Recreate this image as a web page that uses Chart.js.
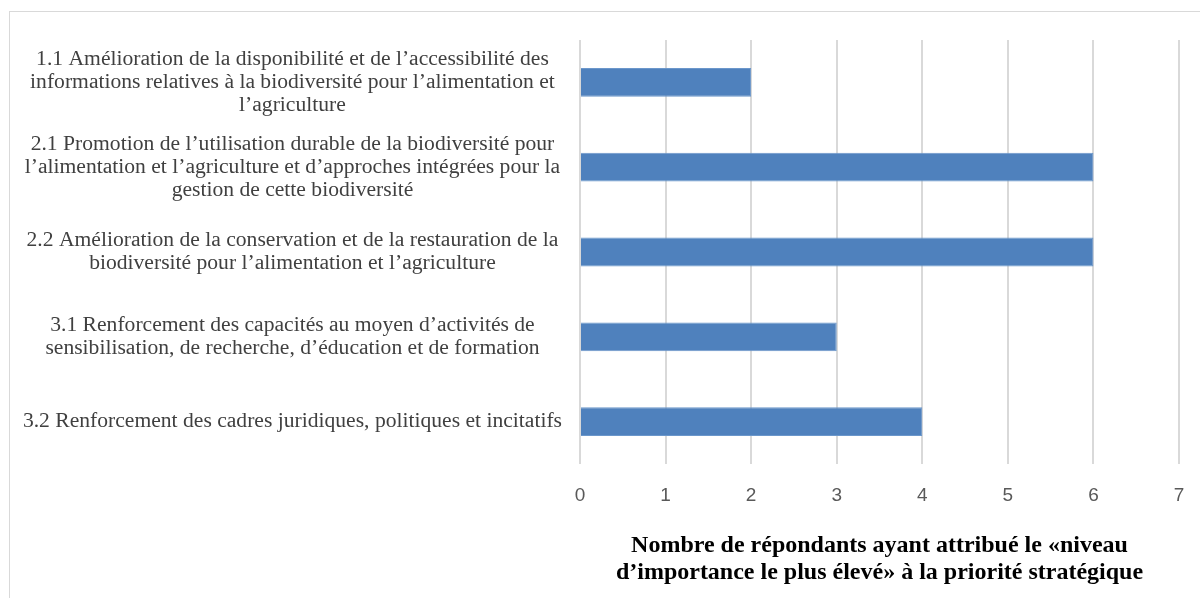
<!DOCTYPE html>
<html>
<head>
<meta charset="utf-8">
<script src="https://cdn.jsdelivr.net/npm/chart.js@4/dist/chart.umd.min.js"></script>
<style>
    html, body { margin: 0; padding: 0; background: #fff; }
    #frame {
        position: absolute; left: 9px; top: 11px;
        width: 1300px; height: 700px;
        border: 1px solid #d9d9d9;
    }
    #wrap { position: absolute; left: 0; top: 0; width: 1200px; height: 598px; }
</style>
</head>
<body>
<div id="frame"></div>
<div id="wrap"><canvas id="priorityChart" width="1200" height="598"></canvas></div>
<script>
// priorités stratégiques (libellés sur plusieurs lignes)
var categories = [
    ["1.1 Amélioration de la disponibilité et de l’accessibilité des",
     "informations relatives à la biodiversité pour l’alimentation et",
     "l’agriculture"],
    ["2.1 Promotion de l’utilisation durable de la biodiversité pour",
     "l’alimentation et l’agriculture et d’approches intégrées pour la",
     "gestion de cette biodiversité"],
    ["2.2 Amélioration de la conservation et de la restauration de la",
     "biodiversité pour l’alimentation et l’agriculture"],
    ["3.1 Renforcement des capacités au moyen d’activités de",
     "sensibilisation, de recherche, d’éducation et de formation"],
    ["3.2 Renforcement des cadres juridiques, politiques et incitatifs"]
];
var respondents = [2, 6, 6, 3, 4];
var xTicks = [0, 1, 2, 3, 4, 5, 6, 7];
var axisTitle = [
    "Nombre de répondants ayant attribué le «niveau",
    "d’importance le plus élevé» à la priorité stratégique"
];

var ctx = document.getElementById("priorityChart").getContext("2d");

new Chart(ctx, {
    type: 'bar',
    data: {
        labels: categories,
        datasets: [{
            data: respondents,
            backgroundColor: '#4f81bd',
            borderColor: '#6b97cb',
            borderWidth: 1,
            categoryPercentage: 1,
            barPercentage: 0.34
        }]
    },
    options: {
        indexAxis: 'y',
        responsive: false,
        animation: false,
        layout: { padding: { top: 40, right: 21, bottom: 12, left: 0 } },
        plugins: {
            legend: { display: false },
            tooltip: { enabled: false }
        },
        scales: {
            x: {
                min: 0,
                max: 7,
                afterBuildTicks: function (scale) {
                    scale.ticks = xTicks.map(v => ({ value: v }));
                },
                afterFit: function (scale) {
                    scale.height = 122;
                    scale.paddingLeft = 0;
                    scale.paddingRight = 0;
                },
                grid: { color: '#d9d9d9', lineWidth: 2, drawTicks: false },
                border: { display: false },
                ticks: {
                    padding: 20,
                    color: '#595959',
                    font: { family: 'Liberation Sans', size: 19 }
                },
                title: {
                    display: true,
                    text: axisTitle,
                    color: '#000',
                    padding: { top: 0, bottom: 0 },
                    font: { family: 'Liberation Serif', size: 24, weight: 'bold', lineHeight: '27px' }
                }
            },
            y: {
                afterFit: function (scale) { scale.width = 580; },
                grid: { display: false, drawTicks: false },
                border: { display: false },
                ticks: {
                    padding: 18,
                    crossAlign: 'center',
                    color: '#404040',
                    font: { family: 'Liberation Serif', size: 21.6, lineHeight: '23px' }
                }
            }
        }
    }
});
</script>
</body>
</html>
